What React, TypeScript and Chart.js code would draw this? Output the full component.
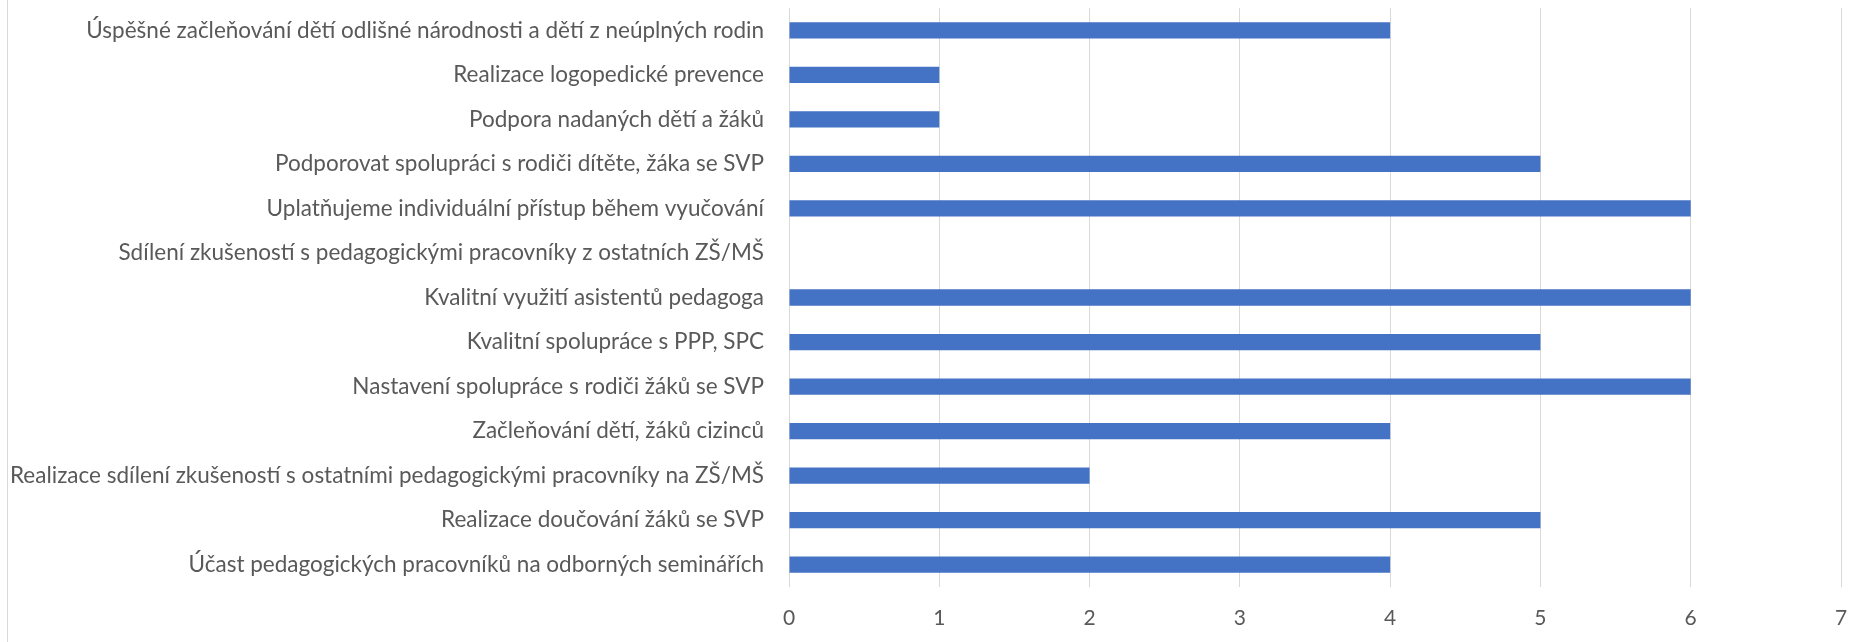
import React, { useEffect, useRef } from "react";
import { Chart, registerables } from "chart.js";

Chart.register(...registerables);

const categories: string[] = [
  "Úspěšné začleňování dětí odlišné národnosti a dětí z neúplných rodin",
  "Realizace logopedické prevence",
  "Podpora nadaných dětí a žáků",
  "Podporovat spolupráci s rodiči dítěte, žáka se SVP",
  "Uplatňujeme individuální přístup během vyučování",
  "Sdílení zkušeností s pedagogickými pracovníky z ostatních ZŠ/MŠ",
  "Kvalitní využití asistentů pedagoga",
  "Kvalitní spolupráce s PPP, SPC",
  "Nastavení spolupráce s rodiči žáků se SVP",
  "Začleňování dětí, žáků cizinců",
  "Realizace sdílení zkušeností s ostatními pedagogickými pracovníky na ZŠ/MŠ",
  "Realizace doučování žáků se SVP",
  "Účast pedagogických pracovníků na odborných seminářích",
];

const values: (number | null)[] = [4, 1, 1, 5, 6, null, 6, 5, 6, 4, 2, 5, 4];

const axisMin = 0;
const axisMax = 7;
const axisStep = 1;

const FONT = "Lato, 'Open Sans', sans-serif";

const leftBorder = {
  id: "leftBorder",
  afterDraw(chart: any) {
    const ctx = chart.ctx;
    ctx.save();
    ctx.strokeStyle = "#d9d9d9";
    ctx.lineWidth = 1;
    ctx.beginPath();
    ctx.moveTo(7.5, 0);
    ctx.lineTo(7.5, chart.height);
    ctx.stroke();
    ctx.restore();
  },
};

export default function App() {
  const ref = useRef<HTMLCanvasElement | null>(null);
  useEffect(() => {
    if (!ref.current) return;
    const chart = new Chart(ref.current, {
      type: "bar",
      data: {
        labels: categories,
        datasets: [
          {
            data: values as any,
            backgroundColor: "#4472C4",
            borderWidth: 0,
            barPercentage: 0.365,
            categoryPercentage: 1,
          },
        ],
      },
      options: {
        indexAxis: "y",
        animation: false,
        responsive: false,
        maintainAspectRatio: false,
        layout: { padding: { top: 8, right: 20, bottom: 0, left: 0 } },
        plugins: { legend: { display: false }, tooltip: { enabled: false } },
        scales: {
          x: {
            min: axisMin,
            max: axisMax,
            ticks: {
              stepSize: axisStep,
              color: "#595959",
              font: { family: FONT, size: 21 },
              padding: 19,
            },
            grid: { color: "#d9d9d9", lineWidth: 1, drawTicks: false },
            border: { display: false },
            afterFit: (s: any) => {
              s.height = 55;
              s.paddingLeft = 0;
              s.paddingRight = 0;
            },
          },
          y: {
            ticks: {
              color: "#595959",
              font: { family: FONT, size: 22.5 },
              padding: 25,
            },
            grid: { display: false, drawTicks: false },
            border: { display: false },
            afterFit: (s: any) => {
              s.width = 789;
              s.paddingTop = 0;
              s.paddingBottom = 0;
            },
          },
        },
      } as any,
      plugins: [leftBorder],
    });
    return () => chart.destroy();
  }, []);
  return (
    <div style={{ position: "fixed", left: 0, top: 0, width: 1861, height: 642, background: "#fff" }}>
      <canvas ref={ref} width={1861} height={642} style={{ width: 1861, height: 642 }} />
    </div>
  );
}
